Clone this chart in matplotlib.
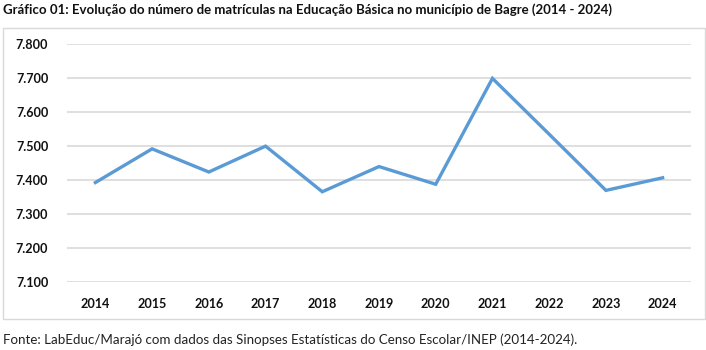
import matplotlib
matplotlib.use("Agg")
import matplotlib.pyplot as plt
from matplotlib.patches import Rectangle
from matplotlib.ticker import FuncFormatter

years = ["2014", "2015", "2016", "2017", "2018", "2019", "2020", "2021", "2022", "2023", "2024"]
matriculas = [7393, 7492, 7424, 7500, 7366, 7440, 7388, 7699, 7535, 7370, 7407]
y_ticks = [7100, 7200, 7300, 7400, 7500, 7600, 7700, 7800]

title = "Gráfico 01: Evolução do número de matrículas na Educação Básica no município de Bagre (2014 - 2024)"
source = "Fonte: LabEduc/Marajó com dados das Sinopses Estatísticas do Censo Escolar/INEP (2014-2024)."

plt.rcParams["font.family"] = ["Lato", "DejaVu Sans"]

W, H = 706, 350
fig = plt.figure(figsize=(W / 100, H / 100), dpi=100)

# chart frame
fig.patches.append(Rectangle((3 / W, 1 - 318.5 / H), 702 / W, 290.5 / H,
                             transform=fig.transFigure, fill=False,
                             edgecolor="#D9D9D9", linewidth=1.0))

ax = fig.add_axes([67 / W, 1 - 282.3 / H, 624 / W, (282.3 - 44) / H])
x = list(range(len(years)))
ax.plot(x, matriculas, color="#5B9BD5", linewidth=2.4, solid_joinstyle="miter")

ax.set_xlim(-0.5, len(years) - 0.5)
ax.set_ylim(y_ticks[0], y_ticks[-1])
ax.set_yticks(y_ticks)
ax.yaxis.set_major_formatter(FuncFormatter(lambda v, p: f"{int(v):,}".replace(",", ".")))
ax.set_xticks(x)
ax.set_xticklabels(years)
ax.grid(axis="y", color="#D9D9D9", linewidth=1.2)
ax.set_axisbelow(True)
for s in ax.spines.values():
    s.set_visible(False)
ax.tick_params(length=0)
ax.tick_params(axis="y", pad=13.5)
ax.tick_params(axis="x", pad=11)
for lbl in ax.get_xticklabels() + ax.get_yticklabels():
    lbl.set_fontweight("bold")
    lbl.set_fontsize(9.1)
    lbl.set_color("#111111")

fig.text(3 / W, 1 - 10 / H, title, ha="left", va="center",
         fontsize=9.5, fontweight="bold", color="#111111")
fig.text(3 / W, 1 - 340 / H, source, ha="left", va="center",
         fontsize=9.6, color="#222222")

fig.savefig("out.png", dpi=100)
